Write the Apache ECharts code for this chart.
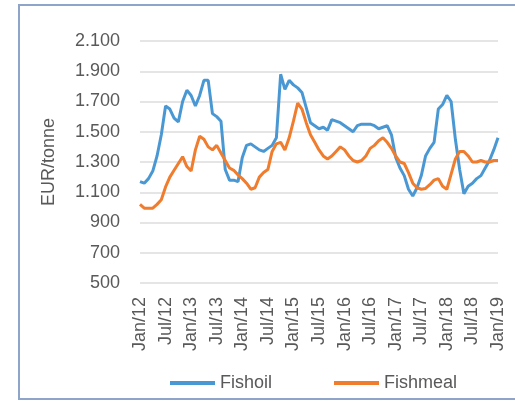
<!DOCTYPE html>
<html>
<head>
<meta charset="utf-8">
<script src="https://cdn.jsdelivr.net/npm/echarts@6/dist/echarts.min.js"></script>
<style>
  html, body { margin: 0; padding: 0; background: #fff; }
  #chart { width: 515px; height: 404px; }
</style>
</head>
<body>
<div id="chart"></div>
<script>
// monthly, Jan/12 .. Jan/19
const months = ['Jan', 'Feb', 'Mar', 'Apr', 'May', 'Jun', 'Jul', 'Aug', 'Sep', 'Oct', 'Nov', 'Dec']
const years = ['12', '13', '14', '15', '16', '17', '18', '19']
const categories = []
years.forEach(y => {
  months.forEach(m => {
    if (categories.length < 85) categories.push(m + '/' + y)
  })
})

const fishoil = [
  1170, 1160, 1190, 1240, 1340, 1480, 1670, 1650, 1590, 1565, 1700, 1775,
  1740, 1670, 1740, 1840, 1840, 1620, 1600, 1570, 1250, 1180, 1180, 1170,
  1330, 1410, 1420, 1400, 1380, 1370, 1390, 1410, 1460, 1880, 1780, 1840,
  1810, 1790, 1760, 1660, 1560, 1540, 1520, 1530, 1510, 1580, 1570, 1560,
  1540, 1520, 1500, 1540, 1550, 1550, 1550, 1540, 1520, 1530, 1540, 1480,
  1330, 1260, 1210, 1120, 1075, 1130, 1210, 1340, 1390, 1430, 1650, 1680,
  1740, 1700, 1450, 1250, 1090, 1140, 1160, 1190, 1210, 1260, 1310, 1380,
  1460
]
const fishmeal = [
  1020, 995, 995, 995, 1020, 1050, 1135, 1200, 1245, 1290, 1335, 1270,
  1240, 1380, 1470, 1450, 1400, 1380, 1410, 1360, 1310, 1260, 1245, 1215,
  1190, 1160, 1120, 1130, 1200, 1230, 1250, 1370, 1420, 1430, 1380, 1460,
  1570, 1690, 1650, 1560, 1480, 1430, 1380, 1340, 1320, 1340, 1370, 1400,
  1380, 1340, 1310, 1300, 1310, 1340, 1390, 1410, 1440, 1460, 1430, 1390,
  1340, 1300, 1290, 1230, 1160, 1130, 1120, 1125, 1150, 1180, 1190, 1140,
  1120, 1220, 1320, 1370, 1370, 1340, 1300, 1300, 1310, 1300, 1300, 1310,
  1310
]

const textColor = '#595959'
const font = 'Liberation Sans, Arial, sans-serif'

const chart = echarts.init(document.getElementById('chart'))
chart.setOption({
  backgroundColor: '#fff',
  animation: false,
  graphic: [
    {
      type: 'rect',
      shape: { x: 19, y: 5, width: 510, height: 394 },
      style: { fill: 'none', stroke: '#8ea4c8', lineWidth: 2 },
      z: -1
    }
  ],
  grid: {
    left: 140,
    right: 17,
    top: 41,
    bottom: 121
  },
  legend: {
    left: 165,
    top: 369,
    icon: 'rect',
    itemWidth: 45,
    itemHeight: 4,
    itemGap: 62,
    textStyle: { color: textColor, fontSize: 18, fontFamily: font },
    data: ['Fishoil', 'Fishmeal']
  },
  xAxis: {
    type: 'category',
    boundaryGap: false,
    data: categories,
    axisLine: { show: false },
    axisTick: { show: false },
    axisLabel: {
      interval: 5,
      rotate: 90,
      margin: 14,
      color: textColor,
      fontSize: 18,
      fontFamily: font
    }
  },
  yAxis: {
    type: 'value',
    min: 500,
    max: 2100,
    interval: 200,
    name: 'EUR/tonne',
    nameLocation: 'middle',
    nameGap: 82,
    nameTextStyle: { color: textColor, fontSize: 18, fontFamily: font },
    axisLine: { show: false },
    axisTick: { show: false },
    axisLabel: {
      margin: 20,
      color: textColor,
      fontSize: 18,
      fontFamily: font,
      formatter: v => v >= 1000 ? Math.floor(v / 1000) + '.' + String(v % 1000).padStart(3, '0') : String(v)
    },
    splitLine: { lineStyle: { color: '#dcdcdc', width: 1.5 } }
  },
  series: [
    {
      name: 'Fishoil',
      type: 'line',
      symbol: 'none',
      data: fishoil,
      itemStyle: { color: '#4a98d3' },
      lineStyle: { color: '#4a98d3', width: 3 }
    },
    {
      name: 'Fishmeal',
      type: 'line',
      symbol: 'none',
      data: fishmeal,
      itemStyle: { color: '#f07c2e' },
      lineStyle: { color: '#f07c2e', width: 3 }
    }
  ]
})
</script>
</body>
</html>
